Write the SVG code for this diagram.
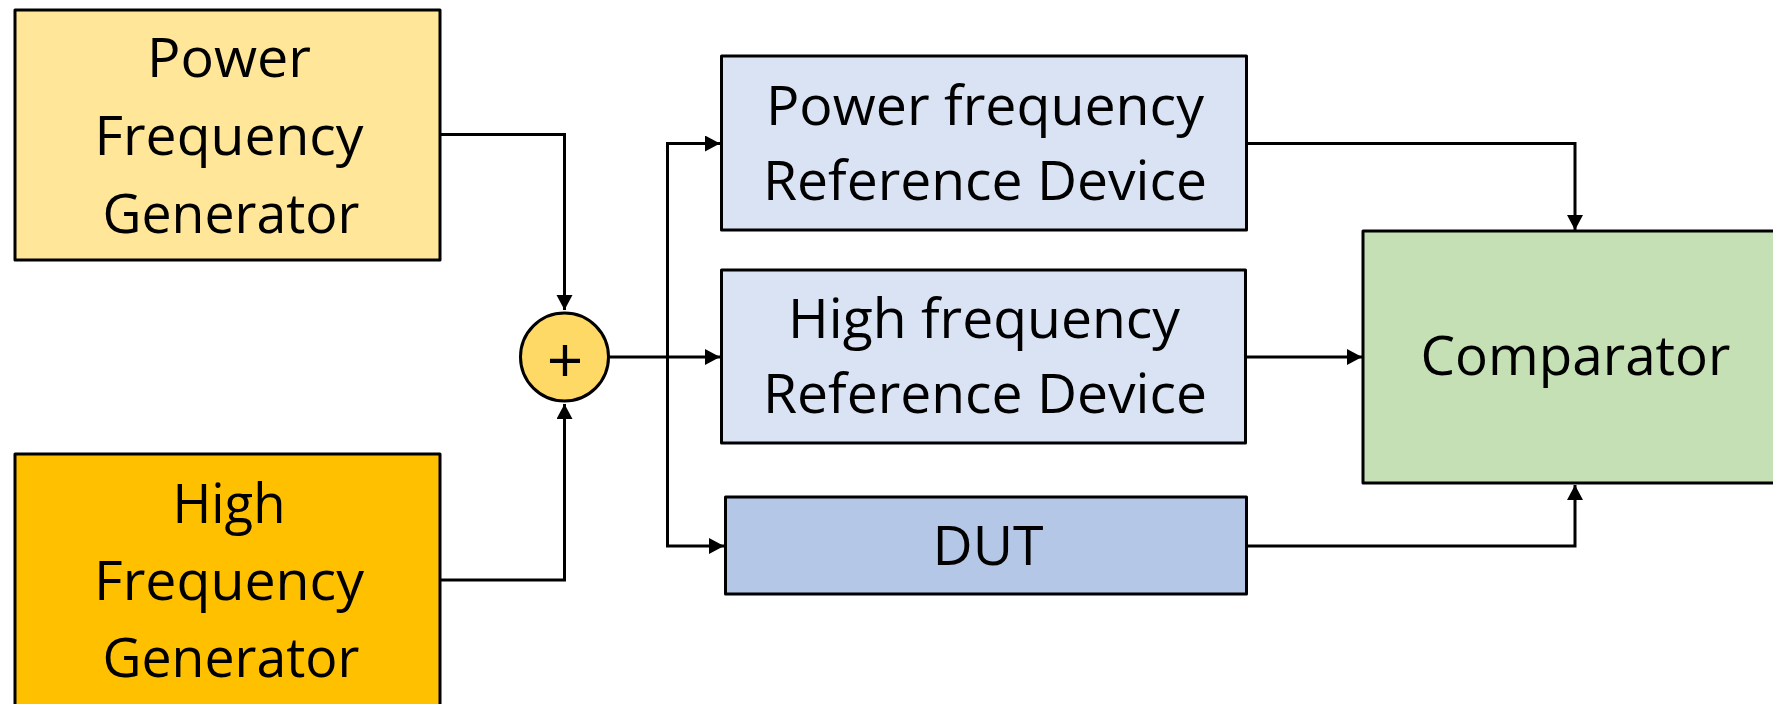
<svg xmlns="http://www.w3.org/2000/svg" width="1773" height="704" viewBox="0 0 1773 704">
<style>
.box{stroke:#000;stroke-width:3;stroke-linejoin:round}
.t{font-family:"Open Sans","Noto Sans","Liberation Sans",sans-serif;font-size:54px;fill:#000;text-anchor:middle}
.c{fill:none;stroke:#000;stroke-width:3}
</style>
<defs>
<marker id="ah" markerUnits="userSpaceOnUse" markerWidth="17" markerHeight="17" refX="15" refY="8" orient="auto">
<path d="M0,0 L15,8 L0,16 Z" fill="#000"/>
</marker>
</defs>
<rect width="1773" height="704" fill="#fff"/>
<g id="connectors">
<path class="c" d="M441,134.5 H564.5 V310" marker-end="url(#ah)"/>
<path class="c" d="M441,580 H564.5 V404" marker-end="url(#ah)"/>
<path class="c" d="M608,357 H720" marker-end="url(#ah)"/>
<path class="c" d="M667.5,357 V143.5 H720" marker-end="url(#ah)"/>
<path class="c" d="M667.5,357 V546 H724" marker-end="url(#ah)"/>
<path class="c" d="M1247,143.5 H1575 V230" marker-end="url(#ah)"/>
<path class="c" d="M1246,357 H1362" marker-end="url(#ah)"/>
<path class="c" d="M1247,546 H1575 V485" marker-end="url(#ah)"/>
</g>
<g id="pfg">
<rect class="box" x="15" y="10" width="425" height="250" fill="#FFE699"/>
<text class="t" x="229" y="77" textLength="164" lengthAdjust="spacingAndGlyphs">Power</text>
<text class="t" x="229" y="155" textLength="269" lengthAdjust="spacingAndGlyphs">Frequency</text>
<text class="t" x="231" y="233" textLength="257" lengthAdjust="spacingAndGlyphs">Generator</text>
</g>
<g id="hfg">
<rect class="box" x="15" y="454" width="425" height="262" fill="#FFC000"/>
<text class="t" x="229" y="523" textLength="113" lengthAdjust="spacingAndGlyphs">High</text>
<text class="t" x="229" y="600" textLength="270" lengthAdjust="spacingAndGlyphs">Frequency</text>
<text class="t" x="231" y="677" textLength="257" lengthAdjust="spacingAndGlyphs">Generator</text>
</g>
<g id="sum">
<circle cx="564.5" cy="357" r="44" fill="#FFD966" stroke="#000" stroke-width="3"/>
<text class="t" x="565" y="383" style="font-size:64px">+</text>
</g>
<g id="pfrd">
<rect class="box" x="721.5" y="56" width="525" height="174" fill="#DAE3F3"/>
<text class="t" x="985" y="125" textLength="438" lengthAdjust="spacingAndGlyphs">Power frequency</text>
<text class="t" x="985" y="200" textLength="444" lengthAdjust="spacingAndGlyphs">Reference Device</text>
</g>
<g id="hfrd">
<rect class="box" x="721.5" y="270" width="524" height="173" fill="#DAE3F3"/>
<text class="t" x="984" y="338" textLength="392" lengthAdjust="spacingAndGlyphs">High frequency</text>
<text class="t" x="985" y="413" textLength="444" lengthAdjust="spacingAndGlyphs">Reference Device</text>
</g>
<g id="dut">
<rect class="box" x="725.5" y="497" width="521" height="97" fill="#B4C7E7"/>
<text class="t" x="988" y="565" textLength="111" lengthAdjust="spacingAndGlyphs">DUT</text>
</g>
<g id="comparator">
<rect class="box" x="1363" y="231" width="430" height="252" fill="#C5E0B4"/>
<text class="t" x="1575.5" y="375" textLength="310" lengthAdjust="spacingAndGlyphs">Comparator</text>
</g>
</svg>
